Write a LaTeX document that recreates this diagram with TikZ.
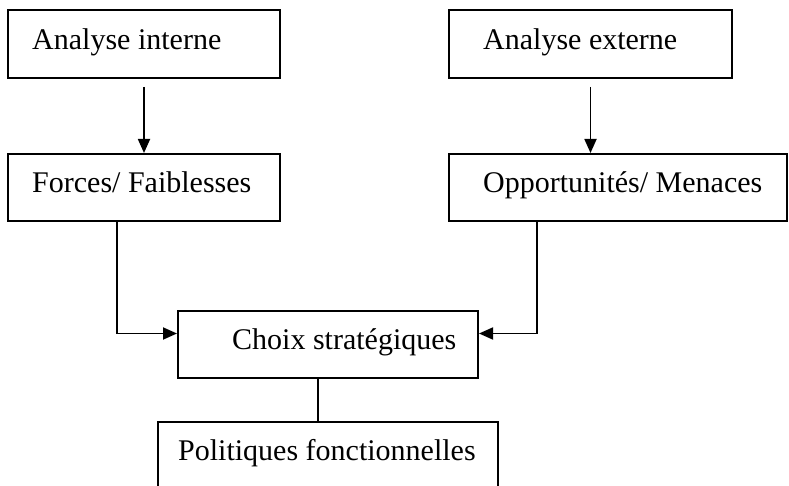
\documentclass[tikz,border=0pt]{standalone}
\usepackage{fontspec}
\setmainfont{Liberation Serif}
\usetikzlibrary{arrows.meta}
\begin{document}
\begin{tikzpicture}[x=1pt,y=-1pt,
  box/.style={draw, line width=2pt, rectangle, inner sep=0pt},
  lbl/.style={anchor=base west, inner sep=0pt, font=\fontsize{30}{36}\selectfont},
  conn/.style={line width=1.8pt},
  arr/.style={conn, -{Triangle[length=14pt,width=12pt]}}]
\useasboundingbox (0,0) rectangle (789,486);
\clip (0,0) rectangle (789,486);

% boxes
\node[box, minimum width=272pt, minimum height=68pt] (ai) at (144,44) {};
\node[box, minimum width=272pt, minimum height=67pt] (ff) at (144,187.5) {};
\node[box, minimum width=283pt, minimum height=68pt] (ae) at (590.5,44) {};
\node[box, minimum width=338pt, minimum height=67pt] (om) at (618,187.5) {};
\node[box, minimum width=300pt, minimum height=67pt] (cs) at (328,344.5) {};
\node[box, minimum width=340pt, minimum height=80pt] (pf) at (328,462) {};

% labels
\node[lbl] (tai) at (32,50) {Analyse interne};
\node[lbl] (tff) at (32,193) {Forces/ Faiblesses};
\node[lbl] (tae) at (483,50) {Analyse externe};
\node[lbl] (tom) at (483,193) {Opportunités/ Menaces};
\node[lbl] (tcs) at (232,349) {Choix stratégiques};
\node[lbl] (tpf) at (178,460) {Politiques fonctionnelles};

% connectors
\draw[arr] ([yshift=-8pt]ai.south) -- (ff.north);
\draw[arr] ([yshift=-8pt]ae.south) -- (ae.south |- om.north);
\draw[arr] ([xshift=110pt]ff.south west) |- ([yshift=11pt]cs.west);
\draw[arr] ([xshift=89pt]om.south west) |- ([yshift=11pt]cs.east);
\draw[conn] ([xshift=-10pt]cs.south) -- ([xshift=-10pt]cs.south |- pf.north);
\end{tikzpicture}
\end{document}
